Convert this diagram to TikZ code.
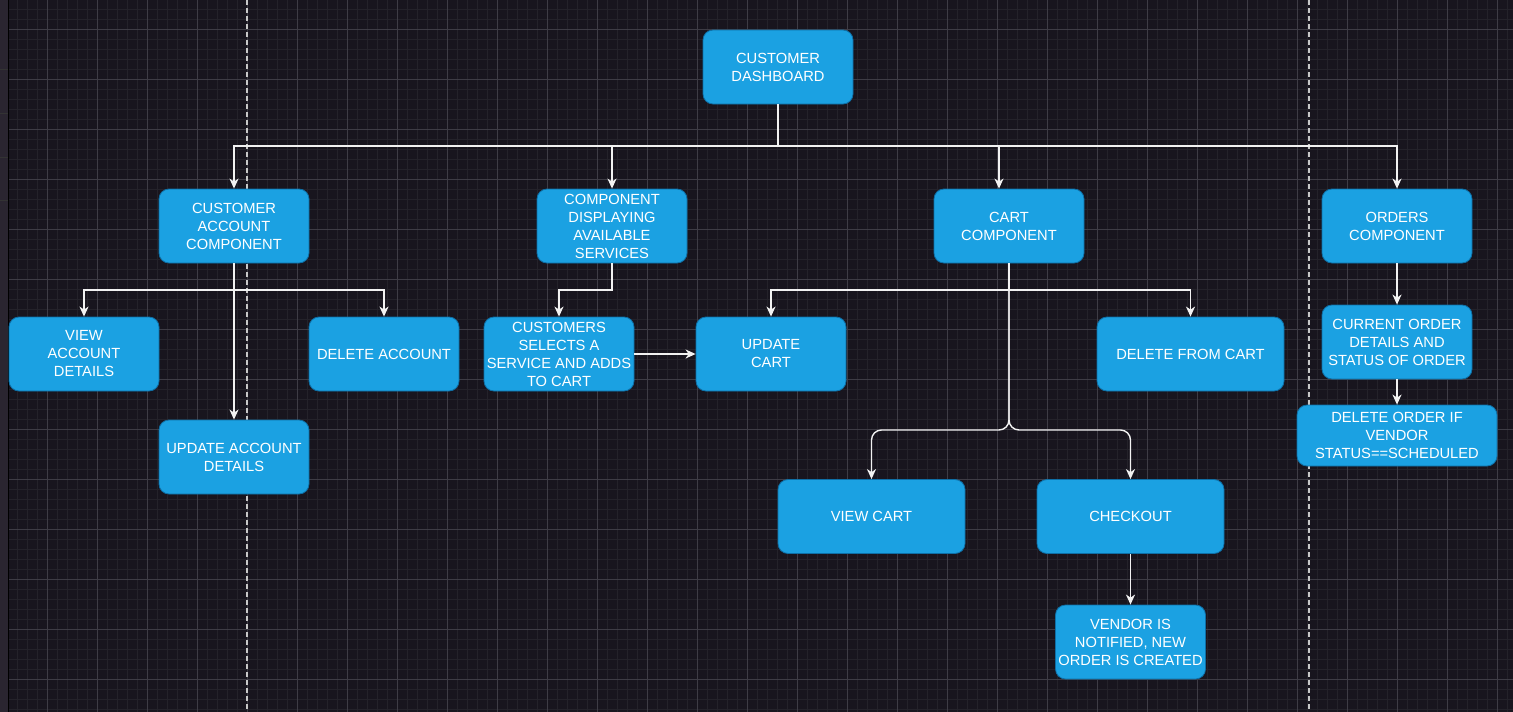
\documentclass[tikz,border=0pt]{standalone}
\usepackage{fontspec}
\setmainfont{Liberation Sans}
\usetikzlibrary{arrows.meta}
\definecolor{canvas}{HTML}{18151E}
\definecolor{gridminor}{HTML}{24222A}
\definecolor{gridmajor}{HTML}{3E3C45}
\definecolor{sidebar}{HTML}{2A2530}
\definecolor{boxfill}{HTML}{1BA1E2}
\definecolor{boxedge}{HTML}{0E6FA6}
\definecolor{wire}{HTML}{F2F2F2}
\definecolor{guide}{HTML}{C8C8C8}
\tikzset{
  box/.style={rectangle, rounded corners=10pt, fill=boxfill, draw=boxedge, line width=0.8pt,
    minimum width=150pt, minimum height=74pt, inner sep=2pt, align=center, text=white,
    font={\fontsize{14.7pt}{18pt}\selectfont}},
  widebox/.style={box, minimum width=187pt},
  conn/.style={draw=wire, line width=1.4pt, -{Stealth[length=10pt,width=9pt,inset=3pt]}},
  gminor/.style={draw=gridminor, line width=0.7pt},
  gmajor/.style={draw=gridmajor, line width=1pt},
  guideline/.style={draw=guide, line width=1.2pt, dash pattern=on 5pt off 3pt}
}
\begin{document}
\begin{tikzpicture}[x=1pt, y=-1pt]
  \useasboundingbox (0,0) rectangle (1513,712);
  % canvas and grid
  \fill[canvas] (0,0) rectangle (1513,712);
  \foreach \x in {17,27,...,1507} \draw[gminor] (\x,0) -- (\x,712);
  \foreach \y in {9,19,...,709} \draw[gminor] (9,\y) -- (1513,\y);
  \foreach \x in {47,97,...,1497} \draw[gmajor] (\x,0) -- (\x,712);
  \foreach \y in {29,79,...,679} \draw[gmajor] (9,\y) -- (1513,\y);
  % side ruler
  \fill[sidebar] (0,0) rectangle (8,712);
  \draw[black, line width=1.2pt] (8.5,0) -- (8.5,712);
  \foreach \y in {69,113,157,200} \draw[black!80, line width=0.8pt] (0,\y) -- (8,\y);
  % page guides
  \draw[guideline] (247,0) -- (247,712);
  \draw[guideline] (1309,0) -- (1309,712);

  % nodes
  \node[box] (dash) at (778,67) {CUSTOMER\\DASHBOARD};
  \node[box] (acc) at (234,226) {CUSTOMER\\ACCOUNT\\COMPONENT};
  \node[box] (svc) at (612,226) {COMPONENT\\DISPLAYING\\AVAILABLE\\SERVICES};
  \node[box] (cart) at (1009,226) {CART\\COMPONENT};
  \node[box] (ord) at (1397,226) {ORDERS\\COMPONENT};
  \node[box] (viewacc) at (84,354) {VIEW\\ACCOUNT\\DETAILS};
  \node[box] (delacc) at (384,354) {DELETE ACCOUNT};
  \node[box] (updacc) at (234,457) {UPDATE ACCOUNT\\DETAILS};
  \node[box] (sel) at (559,354) {CUSTOMERS\\SELECTS A\\SERVICE AND ADDS\\TO CART};
  \node[box] (updcart) at (771,354) {UPDATE\\CART};
  \node[widebox] (delcart) at (1190.5,354) {DELETE FROM CART};
  \node[widebox] (viewcart) at (871.5,516.5) {VIEW CART};
  \node[widebox] (checkout) at (1130.5,516.5) {CHECKOUT};
  \node[box] (vendor) at (1130.5,642) {VENDOR IS\\NOTIFIED, NEW\\ORDER IS CREATED};
  \node[box] (cur) at (1397,342) {CURRENT ORDER\\DETAILS AND\\STATUS OF ORDER};
  \node[box, minimum width=200pt, minimum height=61pt] (delord) at (1397,435.5) {DELETE ORDER IF\\VENDOR\\STATUS==SCHEDULED};

  % routing levels
  \coordinate (bus) at (0,146);
  \coordinate (mid) at (0,290);
  \coordinate (low) at (0,430);

  % connectors
  \draw[conn] (dash.south) -- (dash.south |- bus) -| (acc.north);
  \draw[conn] (dash.south |- bus) -| (svc.north);
  \draw[conn] (dash.south |- bus) -| ([xshift=-10pt]cart.north);
  \draw[conn] (dash.south |- bus) -| (ord.north);

  \draw[conn] (acc.south) -- (acc.south |- mid) -| (viewacc.north);
  \draw[conn] (acc.south |- mid) -| (delacc.north);
  \draw[conn] (acc.south) -- (updacc.north);

  \draw[conn] (svc.south) -- (svc.south |- mid) -| (sel.north);
  \draw[conn] (sel.east) -- (updcart.west);

  \draw[conn] (cart.south) -- (cart.south |- mid) -| (updcart.north);
  \draw[conn] (cart.south |- mid) -| (delcart.north);
  \draw[conn, rounded corners=10pt] (cart.south) -- (cart.south |- low) -| (viewcart.north);
  \draw[conn, rounded corners=10pt] (cart.south) -- (cart.south |- low) -| (checkout.north);

  \draw[conn] (checkout.south) -- (vendor.north);
  \draw[conn] (ord.south) -- (cur.north);
  \draw[conn] (cur.south) -- (delord.north);
\end{tikzpicture}
\end{document}
